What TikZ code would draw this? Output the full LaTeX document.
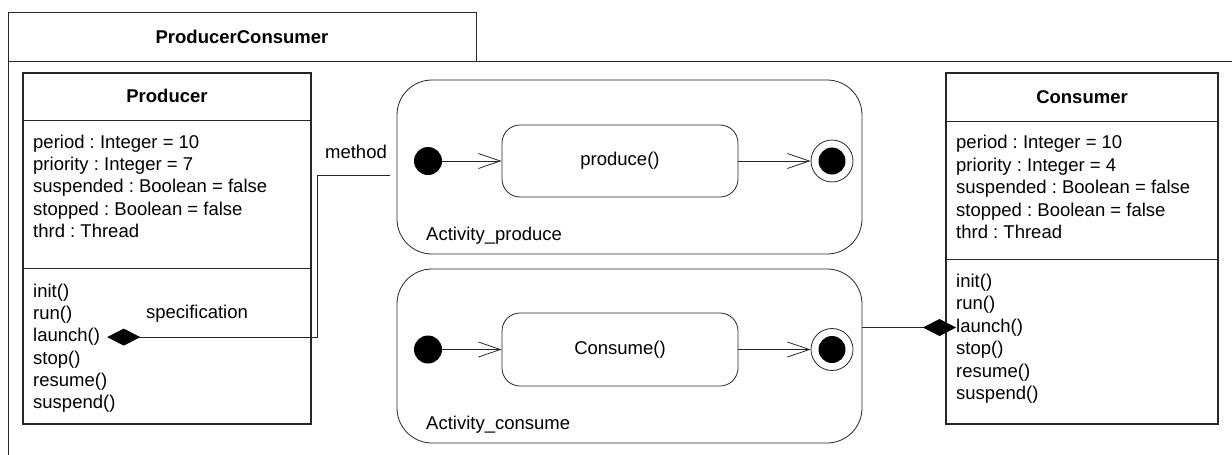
\documentclass[tikz,border=0pt]{standalone}
\usepackage{fontspec}
\setmainfont{Liberation Sans}
\usetikzlibrary{arrows.meta}
\frenchspacing

\begin{document}
\begin{tikzpicture}[x=1pt,y=-1pt,
  every node/.style={font=\fontsize{18.5}{22}\selectfont, inner sep=0pt},
  ln/.style={draw=black!85, line width=0.8pt},
  classbox/.style={draw=black!85, line width=1.1pt, rectangle, minimum height=351},
  divider/.style={draw=black!85, line width=1.1pt},
  member/.style={anchor=base west},
  heading/.style={font=\fontsize{18.5}{22}\selectfont\bfseries},
  activity/.style={ln, rectangle, rounded corners=35pt, minimum width=465, minimum height=174},
  state/.style={ln, rectangle, rounded corners=18pt, minimum width=236},
  initial/.style={circle, fill=black, minimum size=28pt},
  final/.style={circle, ln, minimum size=42pt,
    path picture={\fill[black] (path picture bounding box.center) circle (13.5pt);}},
  trans/.style={ln, -{Straight Barb[length=22pt,width=15pt]}},
  assoc/.style={ln},
  agg/.tip={Diamond[length=33pt,width=17pt,fill=black,color=black]}]

\useasboundingbox (0,0) rectangle (1232,455);

% Package frame
\draw[ln] (1232,61) -- (8,61) (8,455) -- (8,12) -- (476,12) -- (476,61);
\node[heading] (pkgname) at (242,37) {ProducerConsumer};

% Producer class
\node[classbox, minimum width=288] (prod) at (167,248.5) {};
\draw[divider] (prod.north west) ++(0,48) -- ++(288,0);
\draw[divider] (prod.north west) ++(0,196) -- ++(288,0);
\node[heading] (prodname) at (167,96) {Producer};
\foreach \m [count=\i] in {period : Integer = 10, priority : Integer = 7,
    suspended : Boolean = false, stopped : Boolean = false, thrd : Thread}
  \node[member] (pa\i) at (33,{148.5+22.2*(\i-1)}) {\m};
\foreach \m [count=\i] in {init(), run(), launch(), stop(), resume(), suspend()}
  \node[member] (pm\i) at (33,{297.5+22.2*(\i-1)}) {\m};

% Consumer class
\node[classbox, minimum width=272] (cons) at (1082,248.5) {};
\draw[divider] (cons.north west) ++(0,49) -- ++(272,0);
\draw[divider] (cons.north west) ++(0,187) -- ++(272,0);
\node[heading] (consname) at (1082,97) {Consumer};
\foreach \m [count=\i] in {period : Integer = 10, priority : Integer = 4,
    suspended : Boolean = false, stopped : Boolean = false, thrd : Thread}
  \node[member] (ca\i) at (956,{148.5+22.5*(\i-1)}) {\m};
\foreach \m [count=\i] in {init(), run(), launch(), stop(), resume(), suspend()}
  \node[member] (cm\i) at (956,{287.5+22.4*(\i-1)}) {\m};

% Activity produce
\node[activity] (actp) at (629.5,167) {};
\node[initial] (pinit) at (428,161) {};
\node[state, minimum height=72] (produce) at (620,161) {produce()};
\node[final] (pfinal) at (832,161) {};
\node[member] (actpname) at (426,240.5) {Activity\_produce};
\draw[trans] (pinit) -- (produce);
\draw[trans] (produce) -- (pfinal);

% Activity consume
\node[activity] (actc) at (629.5,356) {};
\node[initial] (cinit) at (428,349.5) {};
\node[state, minimum height=73] (consume) at (620,349.5) {Consume()};
\node[final] (cfinal) at (832,349.5) {};
\node[member] (actcname) at (426,429.5) {Activity\_consume};
\draw[trans] (cinit) -- (consume);
\draw[trans] (consume) -- (cfinal);

% Links
\coordinate (methodbend) at (317,175);
\coordinate (methodend) at (390,175);
\draw[assoc, agg-] ([xshift=7pt]pm3.east) -| (methodbend) -- (methodend);
\draw[assoc, -agg] (actc.east |- cm3.west) -- (cm3.west);

% Labels
\node (method) at (356,152) {method};
\node (spec) at (197,314) {specification};

\end{tikzpicture}
\end{document}
